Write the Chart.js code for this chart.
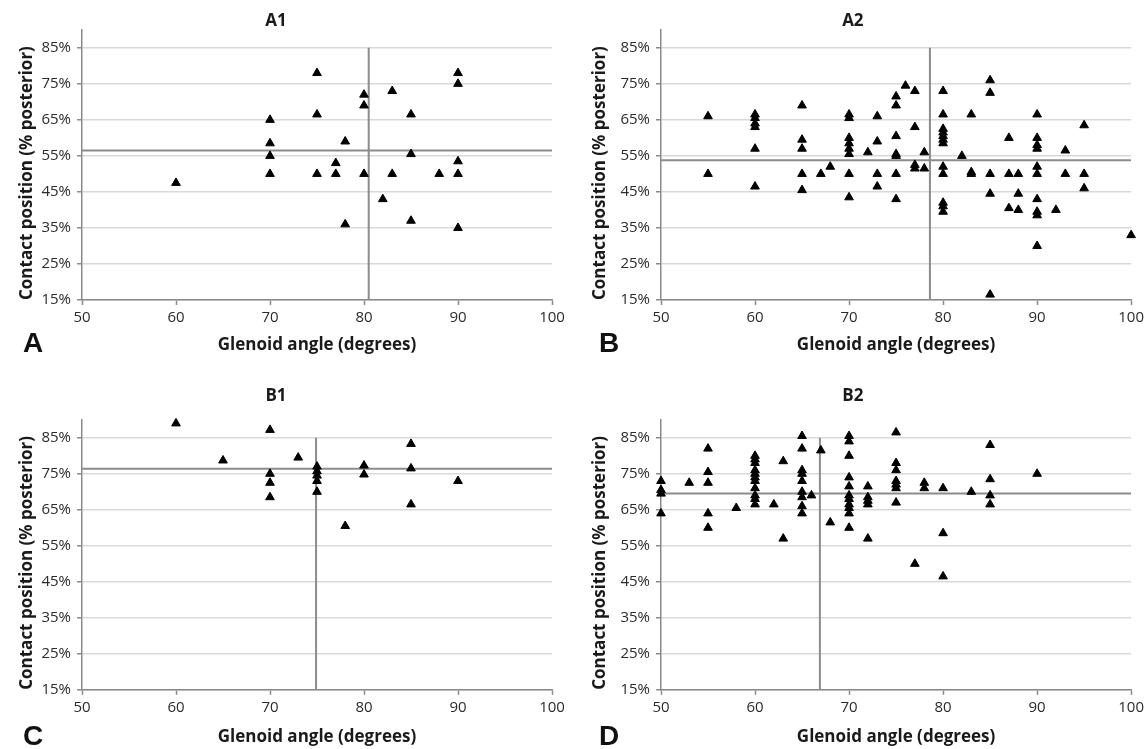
<!DOCTYPE html>
<html>
<head>
<meta charset="utf-8">
<script src="https://cdn.jsdelivr.net/npm/chart.js@4.4.0/dist/chart.umd.min.js"></script>
<style>
  body { margin: 0; background: #fff; }
  #wrap { position: relative; width: 1148px; height: 749px; overflow: hidden; background: #fff; }
  .panel { position: absolute; }
  .letter { position: absolute; font: bold 28px "Liberation Sans", Arial, sans-serif; line-height: 28px; color: #111; }
</style>
</head>
<body>
<div id="wrap">
  <div class="panel" style="left:0;top:0"><canvas id="cA1" width="574" height="374"></canvas></div>
  <div class="panel" style="left:574px;top:0"><canvas id="cA2" width="574" height="374"></canvas></div>
  <div class="panel" style="left:0;top:374px"><canvas id="cB1" width="574" height="375"></canvas></div>
  <div class="panel" style="left:574px;top:374px"><canvas id="cB2" width="574" height="375"></canvas></div>
  <div class="letter" style="left:23px;top:329px">A</div>
  <div class="letter" style="left:599px;top:329px">B</div>
  <div class="letter" style="left:23px;top:722px">C</div>
  <div class="letter" style="left:599px;top:722px">D</div>
</div>
<script>
// axis ticks
const xTicks = [50, 60, 70, 80, 90, 100];
const yTicks = [15, 25, 35, 45, 55, 65, 75, 85];
const yMax = 90;

const titles = ['A1', 'A2', 'B1', 'B2'];

// A1: glenoid angle / contact position
const a1X = [60, 70, 70, 70, 70, 75, 75, 75, 77, 77, 78, 78, 80, 80, 80, 82, 83, 83, 85, 85, 85, 88, 90, 90, 90, 90, 90];
const a1Y = [47.5, 65, 58.5, 55, 50, 78, 66.5, 50, 53, 50, 59, 36, 72, 69, 50, 43, 73, 50, 66.5, 55.5, 37, 50, 78, 75, 53.5, 50, 35];

// A2
const a2X = [55, 55,
  60, 60, 60, 60, 60, 60,
  65, 65, 65, 65, 65,
  67, 68,
  70, 70, 70, 70, 70, 70, 70, 70,
  72,
  73, 73, 73, 73,
  75, 75, 75, 75, 75, 75, 75,
  76,
  77, 77, 77, 77,
  78, 78,
  80, 80, 80, 80, 80, 80, 80, 80, 80, 80, 80, 80,
  82,
  83, 83, 83,
  85, 85, 85, 85, 85,
  87, 87, 87,
  88, 88, 88,
  90, 90, 90, 90, 90, 90, 90, 90, 90, 90,
  92,
  93, 93,
  95, 95, 95,
  100];
const a2Y = [66, 50,
  66.5, 65.5, 64, 63, 57, 46.5,
  69, 59.5, 57, 50, 45.5,
  50, 52,
  66.5, 65.5, 60, 58.5, 57, 55.5, 50, 43.5,
  56,
  66, 59, 50, 46.5,
  71.5, 69, 60.5, 55.5, 55, 50, 43,
  74.5,
  73, 63, 52.5, 51.5,
  56, 51.5,
  73, 66.5, 62.5, 61.5, 60.5, 59.5, 58.5, 52, 50, 42, 41, 39.5,
  55,
  66.5, 50.5, 50,
  76, 72.5, 50, 44.5, 16.5,
  60, 50, 40.5,
  50, 44.5, 40,
  66.5, 60, 58, 57, 52, 50, 43, 39.5, 38.5, 30,
  40,
  56.5, 50,
  63.5, 50, 46,
  33];

// B1
const b1X = [60, 65, 70, 70, 70, 70, 73, 75, 75, 75, 75, 75, 78, 80, 80, 85, 85, 85, 90];
const b1Y = [89, 78.7, 87.2, 75, 72.5, 68.5, 79.5, 77, 75.7, 74.5, 73, 70, 60.5, 77.3, 74.8, 83.3, 76.5, 66.5, 73];

// B2
const b2X = [50, 50, 50, 50,
  53,
  55, 55, 55, 55, 55,
  58,
  60, 60, 60, 60, 60, 60, 60, 60, 60, 60, 60,
  62,
  63, 63,
  65, 65, 65, 65, 65, 65, 65, 65, 65,
  66, 67, 68,
  70, 70, 70, 70, 70, 70, 70, 70, 70, 70, 70,
  72, 72, 72, 72, 72,
  75, 75, 75, 75, 75, 75, 75,
  77,
  78, 78,
  80, 80, 80,
  83,
  85, 85, 85, 85,
  90];
const b2Y = [73, 70.5, 69.5, 64,
  72.5,
  82, 75.5, 72.5, 64, 60,
  65.5,
  80, 79, 78, 76, 75, 74, 73, 71, 69, 68, 66.5,
  66.5,
  78.5, 57,
  85.5, 82, 76, 75, 73, 70, 68.5, 66, 64,
  69, 81.5, 61.5,
  85.5, 84, 80, 74, 71.5, 69, 68, 66.5, 65.5, 64, 60,
  71.5, 68.5, 67.5, 66.5, 57,
  86.5, 78, 76, 73, 72, 71, 67,
  50,
  72.5, 71,
  71, 58.5, 46.5,
  70,
  83, 73.5, 69, 66.5,
  75];

// mean lines per panel (A1, A2, B1, B2)
const meanX = [80.5, 78.6, 74.9, 66.9];
const meanY = [56.5, 53.8, 76.4, 69.5];

const xTitle = 'Glenoid angle (degrees)';
const yTitle = 'Contact position (% posterior)';

const FONT = '"Open Sans", "DejaVu Sans", sans-serif';
Chart.defaults.font.family = FONT;

const axisGray = '#8a8a8a';

function makePanel(id, idx, xs, ys, geo) {
  const points = xs.map((x, i) => ({ x: x, y: ys[i] }));
  const hLine = [{ x: xTicks[0], y: meanY[idx] }, { x: xTicks[xTicks.length - 1], y: meanY[idx] }];
  const vLine = [{ x: meanX[idx], y: yTicks[0] }, { x: meanX[idx], y: yTicks[yTicks.length - 1] }];

  new Chart(document.getElementById(id), {
    type: 'scatter',
    data: {
      datasets: [
        {
          data: points,
          pointStyle: 'triangle',
          pointRadius: 5,
          backgroundColor: '#000',
          borderColor: '#000',
          borderWidth: 1,
          clip: false,
          order: 0
        },
        { data: hLine, showLine: true, pointRadius: 0, borderColor: '#8c8c8c', borderWidth: 2, order: 1 },
        { data: vLine, showLine: true, pointRadius: 0, borderColor: '#8c8c8c', borderWidth: 2, order: 1 }
      ]
    },
    options: {
      responsive: false,
      animation: false,
      layout: { padding: { left: 0, right: geo.padRight, top: 0, bottom: 0 } },
      plugins: {
        legend: { display: false },
        tooltip: { enabled: false },
        title: {
          display: true,
          text: titles[idx],
          color: '#1a1a1a',
          font: { size: 17, weight: 'bold', lineHeight: 1.0 },
          padding: { top: geo.titleTop, bottom: geo.titleBottom }
        }
      },
      scales: {
        x: {
          type: 'linear',
          min: xTicks[0],
          max: xTicks[xTicks.length - 1],
          afterBuildTicks: s => { s.ticks = xTicks.map(v => ({ value: v })); },
          afterFit: s => { s.height = geo.xHeight; },
          grid: { drawOnChartArea: false, drawTicks: true, tickLength: 5, tickColor: axisGray, tickWidth: 1.5 },
          border: { color: axisGray, width: 1.5 },
          ticks: { color: '#2b2b2b', font: { size: 15, lineHeight: 1.2 }, padding: 4, maxRotation: 0 },
          title: {
            display: true,
            text: xTitle,
            color: '#1a1a1a',
            font: { size: 17, weight: 'bold', lineHeight: 1.2 },
            padding: { top: 0, bottom: geo.xTitleBottom }
          }
        },
        y: {
          type: 'linear',
          min: yTicks[0],
          max: yMax,
          afterBuildTicks: s => { s.ticks = yTicks.map(v => ({ value: v })); },
          afterFit: s => { s.width = geo.yWidth; },
          grid: { color: '#d9d9d9', lineWidth: 1.5, drawTicks: true, tickLength: 5, tickColor: axisGray, tickWidth: 1.5 },
          border: { color: axisGray, width: 1.5 },
          ticks: { color: '#2b2b2b', font: { size: 15, lineHeight: 1.2 }, padding: 6, callback: v => v + '%' },
          title: {
            display: true,
            text: yTitle,
            align: 'start',
            color: '#1a1a1a',
            font: { size: 17, weight: 'bold', lineHeight: 1.2 },
            padding: { top: geo.yTitlePad, bottom: 0 }
          }
        }
      }
    }
  });
}

// panel geometry (canvas px)
const topLeft = { padRight: 22, yWidth: 82, xHeight: 74, titleTop: 12.2, titleBottom: 0.6, xTitleBottom: 18.8, yTitlePad: 16.8 };
const topRight = { padRight: 16.3, yWidth: 87, xHeight: 74, titleTop: 12.2, titleBottom: 0.6, xTitleBottom: 18.8, yTitlePad: 15.8 };
const botLeft = { padRight: 22, yWidth: 82, xHeight: 59.2, titleTop: 13.2, titleBottom: 15.6, xTitleBottom: 2.1, yTitlePad: 16.8 };
const botRight = { padRight: 16.3, yWidth: 87, xHeight: 59.2, titleTop: 13.2, titleBottom: 15.6, xTitleBottom: 2.1, yTitlePad: 15.8 };

makePanel('cA1', 0, a1X, a1Y, topLeft);
makePanel('cA2', 1, a2X, a2Y, topRight);
makePanel('cB1', 2, b1X, b1Y, botLeft);
makePanel('cB2', 3, b2X, b2Y, botRight);
</script>
</body>
</html>
